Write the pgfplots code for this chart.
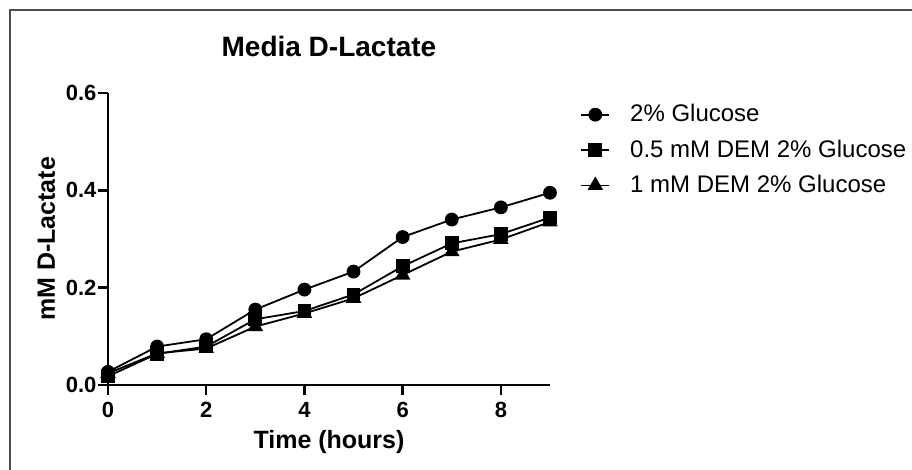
\documentclass[border=0pt]{standalone}
\usepackage{fontspec}
\setmainfont{Liberation Sans}
\usepackage{pgfplots}
\pgfplotsset{compat=1.18}

% one reference pixel = 0.5pt
\begin{document}
\begin{tikzpicture}
\path[use as bounding box] (0,0) rectangle (456pt,235pt);
% cropped outer frame (top and left visible)
\draw[line width=1pt, color=black!70] (4.75pt,0pt) -- (4.75pt,230pt) -- (456pt,230pt);
\begin{axis}[
  at={(54pt,42.5pt)}, anchor=south west,
  scale only axis, width=221pt, height=146pt,
  xmin=0, xmax=9, ymin=0, ymax=0.6,
  clip=false,
  axis lines=left,
  axis line style={-, line width=1.2pt},
  tick align=outside,
  major tick length=5pt,
  tick style={line width=1.2pt, black},
  xtick={0,2,4,6,8},
  ytick={0,0.2,0.4,0.6},
  minor tick num=0,
  /pgf/number format/assume math mode=true,
  tick label style={font=\fontsize{11}{13}\selectfont\bfseries},
  yticklabel style={inner sep=0.6pt, /pgf/number format/.cd, fixed, fixed zerofill, precision=1},
  title={Media D-Lactate},
  title style={font=\fontsize{14}{16}\selectfont\bfseries, at={(0.5,1)}, anchor=base, yshift=12pt},
  xlabel={Time (hours)},
  xlabel style={font=\fontsize{12.5}{15}\selectfont\bfseries, at={([yshift=-32pt]axis description cs:0.5,0)}, anchor=base},
  ylabel={mM D-Lactate},
  ylabel style={font=\fontsize{12.5}{15}\selectfont\bfseries, at={([xshift=-26.5pt]axis description cs:0,0.5)}, anchor=base},
  every axis plot/.append style={black, line width=0.9pt, mark size=3pt},
  legend image code/.code={\draw[mark repeat=2, mark phase=2, #1] plot coordinates {(0pt,0pt) (7pt,0pt) (14pt,0pt)};},
  legend cell align=left,
  legend style={draw=none, fill=none, inner sep=0pt, at={(1.068,0.962)}, anchor=north west,
    font=\fontsize{12}{14}\selectfont, row sep=7.5pt, column sep=0pt,
    nodes={inner sep=0pt},
    /tikz/every odd column/.append style={column sep=10pt}},
]
\addplot[mark=*, mark options={solid, fill=black}] coordinates {
  (0,0.027) (1,0.079) (2,0.094) (3,0.155) (4,0.196)
  (5,0.233) (6,0.304) (7,0.340) (8,0.365) (9,0.395)
};
\addlegendentry{2\% Glucose}
\addplot[mark=square*, mark options={solid, fill=black}] coordinates {
  (0,0.018) (1,0.064) (2,0.079) (3,0.135) (4,0.152)
  (5,0.186) (6,0.244) (7,0.291) (8,0.310) (9,0.344)
};
\addlegendentry{0.5 mM DEM 2\% Glucose}
\addplot[mark=triangle*, mark size=3.6pt, mark options={solid, fill=black}] coordinates {
  (0,0.024) (1,0.065) (2,0.075) (3,0.120) (4,0.147)
  (5,0.178) (6,0.226) (7,0.274) (8,0.299) (9,0.335)
};
\addlegendentry{1 mM DEM 2\% Glucose}
\end{axis}
\end{tikzpicture}
\end{document}
